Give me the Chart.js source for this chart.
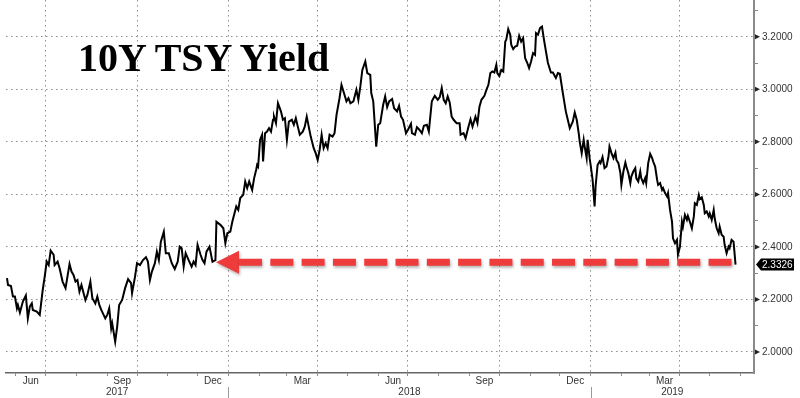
<!DOCTYPE html>
<html>
<head>
<meta charset="utf-8">
<script src="https://cdn.jsdelivr.net/npm/chart.js@4/dist/chart.umd.min.js"></script>
<style>
  html, body { margin: 0; padding: 0; background: #ffffff; }
  #wrap { position: relative; width: 800px; height: 398px; overflow: hidden; }
  #title {
    position: absolute; left: 78px; top: 38px;
    font: bold 40px "Liberation Serif", "Times New Roman", serif;
    line-height: 40px; color: #000; white-space: nowrap; pointer-events: none;
  }
</style>
</head>
<body>
<div id="wrap">
  <canvas id="c" width="800" height="398"></canvas>
  <div id="title">10Y TSY Yield</div>
</div>
<script>
// ---------------- DATA ----------------
// x: days since 2017-07-01, y: 10Y Treasury yield (%)
const days = [
  -39,-38,-35,-33,-31,-29,-28,-26,-23,-20,
  -18,-16,-14,-13,-9,-6,-3,-1,1,3,
  5,8,9,12,14,17,20,24,26,28,
  30,32,34,36,40,42,45,47,50,52,
  54,56,60,62,64,66,67,70,72,74,
  77,80,83,86,87,90,92,95,98,101,
  103,105,107,110,112,114,116,119,121,124,
  127,130,133,135,137,139,141,144,147,149,
  151,153,156,158,160,162,165,168,171,
  172,176,179,181,183,186,188,192,194,196,
  199,201,203,205,208,210,212,213,214,216,
  218,219,221,223,225,227,229,230,232,234,
  237,239,241,243,245,248,250,252,254,256,
  259,261,263,265,267,270,272,274,276,278,
  280,282,284,286,289,291,293,296,298,301,
  303,305,307,310,313,315,317,319,322,324,
  327,328,330,333,335,337,
  340,342,344,346,349,351,354,356,358,360,
  363,365,368,369,372,374,376,379,381,384,
  386,389,392,395,397,399,401,403,405,407,
  409,411,414,417,418,421,423,426,428,430,
  433,435,437,439,442,444,446,448,450,452,
  454,455,457,459,461,463,464,466,468,469,
  471,473,475,477,479,481,483,485,487,489,
  491,493,494,496,498,500,502,504,506,509,
  511,514,516,518,
  521,524,526,528,531,533,535,537,538,540,
  542,543,545,546,548,549,551,553,554,556,
  558,559,561,563,565,567,568,570,572,574,
  575,577,579,580,582,584,585,587,589,590,
  592,594,595,597,599,600,602,604,605,607,
  609,611,612,614,616,617,619,621,622,624,
  626,627,629,631,632,634,636,637,639,641,
  642,644,646,647,649,651,653,654,656,658,
  659,661,663,664,666,668,669,671,673,674,
  676,678,679,681,683,684,686,688,689,691,
  693,695
];
const yields = [
  2.281,2.255,2.251,2.211,2.211,2.166,2.179,2.150,2.192,2.215,
  2.128,2.173,2.185,2.160,2.154,2.141,2.236,2.287,2.344,2.331,
  2.386,2.370,2.331,2.344,2.319,2.268,2.243,2.335,2.306,2.293,
  2.268,2.274,2.230,2.255,2.198,2.217,2.268,2.205,2.185,2.211,
  2.179,2.160,2.128,2.141,2.166,2.090,2.109,2.039,2.096,2.179,
  2.198,2.243,2.277,2.262,2.224,2.287,2.338,2.331,2.350,2.361,
  2.344,2.274,2.306,2.338,2.382,2.350,2.420,2.458,2.376,2.376,
  2.338,2.316,2.344,2.401,2.395,2.325,2.376,2.350,2.325,2.344,
  2.331,2.408,2.370,2.350,2.338,2.382,2.401,2.344,2.350,
  2.496,2.484,2.471,2.414,2.452,2.458,2.496,2.554,2.541,2.586,
  2.598,2.649,2.624,2.649,2.617,2.662,2.693,2.712,2.706,2.808,
  2.827,2.725,2.833,2.839,2.852,2.839,2.884,2.896,2.871,2.947,
  2.916,2.884,2.890,2.808,2.877,2.884,2.865,2.890,2.858,2.827,
  2.839,2.858,2.896,2.858,2.820,2.776,2.757,2.731,2.770,2.827,
  2.776,2.795,2.776,2.827,2.820,2.833,2.903,2.966,3.017,2.979,
  2.954,2.966,2.947,2.954,2.998,2.960,3.011,3.074,3.106,3.062,
  3.055,2.986,2.954,2.782,2.865,2.871,
  2.941,2.973,2.932,2.954,2.963,2.928,2.916,2.937,2.896,2.884,
  2.833,2.846,2.869,2.833,2.827,2.856,2.848,2.833,2.861,2.865,
  2.839,2.954,2.975,2.960,2.970,3.005,2.960,2.947,2.973,2.950,
  2.896,2.884,2.871,2.871,2.827,2.833,2.814,2.858,2.886,2.858,
  2.896,2.871,2.934,2.960,2.975,2.998,3.017,3.062,3.068,3.064,
  3.093,3.062,3.051,3.074,3.068,3.182,3.189,3.229,3.208,3.170,
  3.153,3.163,3.166,3.204,3.182,3.195,3.119,3.102,3.081,3.106,
  3.138,3.131,3.214,3.208,3.233,3.239,3.189,3.144,3.100,3.064,
  3.064,3.043,3.062,3.059,
  2.986,2.916,2.884,2.852,2.877,2.912,2.884,2.833,2.801,2.757,
  2.808,2.782,2.738,2.808,2.738,2.712,2.655,2.554,2.630,2.712,
  2.725,2.719,2.742,2.700,2.706,2.744,2.782,2.757,2.738,2.759,
  2.731,2.719,2.681,2.636,2.687,2.721,2.706,2.681,2.643,2.668,
  2.687,2.700,2.662,2.649,2.687,2.662,2.643,2.662,2.643,2.719,
  2.754,2.738,2.725,2.706,2.655,2.636,2.643,2.617,2.624,2.605,
  2.592,2.605,2.541,2.496,2.433,2.414,2.427,2.370,2.401,2.496,
  2.477,2.522,2.503,2.518,2.496,2.471,2.516,2.566,2.560,2.598,
  2.582,2.589,2.560,2.528,2.535,2.516,2.528,2.503,2.541,2.509,
  2.471,2.452,2.477,2.446,2.439,2.408,2.376,2.401,2.395,2.427,
  2.420,2.3326
];

// axis ticks / labels
const monthLabels = ['Jun', 'Sep', 'Dec', 'Mar', 'Jun', 'Sep', 'Dec', 'Mar'];
const monthLabelMonths = ['2017-06', '2017-09', '2017-12', '2018-03', '2018-06', '2018-09', '2018-12', '2019-03'];
const yearLabels = ['2017', '2018', '2019'];
const yMajorTicks = [2.0, 2.2, 2.4, 2.6, 2.8, 3.0, 3.2];
const yMinorTicks = [2.1, 2.3, 2.5, 2.7, 2.9, 3.1, 3.3];

// annotation: red dashed arrow level and extent (days since 2017-07-01)
const arrowLevel = 2.342;
const arrowFromDay = 171.6;
const arrowToDay = 692.4;

// ---------------- helpers ----------------
const ORIGIN = Date.UTC(2017, 6, 1);
const dayOf = (y, m, d) => (Date.UTC(y, m - 1, d) - ORIGIN) / 86400000;
const X_MIN = -40, X_MAX = 713.6;
const Y_MIN = 1.92, Y_MAX = 3.34;

const GRID = '#8e8e8e';
const AXIS = '#8a8a8a';
const TEXT = '#333333';
const RED = '#ee3b3b';
const FONT = '"Liberation Sans", Arial, sans-serif';

// month boundaries Jun 2017 .. Jun 2019
const xTickDefs = [];
for (let y = 2017, m = 6; y < 2019 || (y === 2019 && m <= 6); ) {
  xTickDefs.push({ value: dayOf(y, m, 1), kind: (m % 3 === 1) ? 'q' : 'm', text: '' });
  m++; if (m > 12) { m = 1; y++; }
}
monthLabelMonths.forEach((ym, i) => {
  const [y, m] = ym.split('-').map(Number);
  const s = dayOf(y, m, 1);
  const e = m === 12 ? dayOf(y + 1, 1, 1) : dayOf(y, m + 1, 1);
  xTickDefs.push({ value: (s + e) / 2, kind: 'lbl', text: monthLabels[i] });
});
yearLabels.forEach(ys => {
  const y = Number(ys);
  const s = Math.max(X_MIN, dayOf(y, 1, 1));
  const e = Math.min(X_MAX, dayOf(y + 1, 1, 1));
  xTickDefs.push({ value: (s + e) / 2, kind: 'yr', text: ['', ys] });
});
xTickDefs.sort((a, b) => a.value - b.value);

const yTickValues = yMajorTicks.concat(yMinorTicks).sort((a, b) => a - b);
const isMajor = v => yMajorTicks.some(t => Math.abs(t - v) < 1e-6);

const points = days.map((d, i) => ({ x: d, y: yields[i] }));

// ---------------- annotation plugin ----------------
const annotPlugin = {
  id: 'annot',
  afterDatasetsDraw(chart) {
    const { ctx, scales: { x, y } } = chart;
    const yp = y.getPixelForValue(arrowLevel);
    const tip = x.getPixelForValue(arrowFromDay);
    const end = x.getPixelForValue(arrowToDay);
    const headLen = 23, headHalf = 11.5;
    ctx.save();
    ctx.shadowColor = 'rgba(0,0,0,0.30)';
    ctx.shadowBlur = 3;
    ctx.shadowOffsetX = 1;
    ctx.shadowOffsetY = 2;
    ctx.fillStyle = RED;
    ctx.beginPath();
    ctx.moveTo(tip, yp);
    ctx.lineTo(tip + headLen, yp - headHalf);
    ctx.lineTo(tip + headLen, yp + headHalf);
    ctx.closePath();
    ctx.fill();
    ctx.strokeStyle = RED;
    ctx.lineWidth = 7;
    ctx.lineCap = 'butt';
    ctx.setLineDash([23, 8.3]);
    ctx.beginPath();
    ctx.moveTo(tip + headLen, yp);
    ctx.lineTo(end, yp);
    ctx.stroke();
    ctx.restore();
  },
  afterDraw(chart) {
    const { ctx, scales: { x, y }, chartArea } = chart;
    ctx.save();
    // triangle markers on major right-axis ticks
    ctx.fillStyle = '#222';
    yMajorTicks.forEach(v => {
      const p = y.getPixelForValue(v);
      ctx.beginPath();
      ctx.moveTo(chartArea.right + 1, p - 2.5);
      ctx.lineTo(chartArea.right + 6, p);
      ctx.lineTo(chartArea.right + 1, p + 2.5);
      ctx.closePath();
      ctx.fill();
    });
    // year separators below month labels
    ctx.strokeStyle = '#999';
    ctx.lineWidth = 1;
    yearLabels.slice(1).forEach(ys => {
      const px = Math.round(x.getPixelForValue(dayOf(Number(ys), 1, 1))) + 0.5;
      ctx.beginPath();
      ctx.moveTo(px, chartArea.bottom + 14);
      ctx.lineTo(px, chart.height);
      ctx.stroke();
    });
    // last value tag
    const last = yields[yields.length - 1];
    const yp = y.getPixelForValue(last);
    const lx = chartArea.right + 2;
    ctx.fillStyle = '#000';
    ctx.beginPath();
    ctx.moveTo(lx, yp);
    ctx.lineTo(lx + 5, yp - 6);
    ctx.lineTo(lx + 38, yp - 6);
    ctx.lineTo(lx + 38, yp + 6);
    ctx.lineTo(lx + 5, yp + 6);
    ctx.closePath();
    ctx.fill();
    ctx.fillStyle = '#fff';
    ctx.font = '10px ' + FONT;
    ctx.textAlign = 'left';
    ctx.textBaseline = 'middle';
    ctx.fillText(last.toFixed(4), chartArea.right + 8, yp + 0.5);
    ctx.restore();
  }
};

// ---------------- chart ----------------
new Chart(document.getElementById('c'), {
  type: 'line',
  data: {
    datasets: [{
      data: points,
      borderColor: '#000',
      borderWidth: 2,
      pointRadius: 0,
      tension: 0,
      fill: false
    }]
  },
  options: {
    responsive: false,
    animation: false,
    events: [],
    layout: { padding: { left: 6, right: 0, top: 0, bottom: 0 } },
    plugins: { legend: { display: false }, tooltip: { enabled: false }, title: { display: false } },
    scales: {
      x: {
        type: 'linear',
        min: X_MIN, max: X_MAX,
        afterBuildTicks: s => { s.ticks = xTickDefs.map(t => ({ value: t.value })); },
        afterFit: s => { s.height = 25; s.paddingLeft = 0; s.paddingRight = 0; },
        ticks: {
          autoSkip: false, maxRotation: 0, minRotation: 0, padding: 0,
          color: TEXT,
          font: { family: FONT, size: 10, lineHeight: 1.1 },
          callback: (v, i) => (xTickDefs[i] ? xTickDefs[i].text : '')
        },
        grid: {
          lineWidth: 1,
          tickLength: 3,
          color: c => { const t = xTickDefs[c.index]; return t && t.kind === 'q' ? GRID : 'rgba(0,0,0,0)'; },
          tickColor: c => { const t = xTickDefs[c.index]; return t && (t.kind === 'q' || t.kind === 'm') ? AXIS : 'rgba(0,0,0,0)'; }
        },
        border: { display: true, color: '#666', width: 1.5, dash: [1.5, 3.5] }
      },
      y: {
        type: 'linear',
        position: 'right',
        min: Y_MIN, max: Y_MAX,
        afterBuildTicks: s => { s.ticks = yTickValues.map(v => ({ value: v })); },
        afterFit: s => { s.width = 46; s.paddingTop = 0; s.paddingBottom = 0; },
        ticks: {
          autoSkip: false, padding: 4,
          color: TEXT,
          font: { family: FONT, size: 10 },
          callback: v => (isMajor(v) ? Number(v).toFixed(4) : '')
        },
        grid: {
          lineWidth: 1,
          tickLength: 4,
          color: c => (c.tick && isMajor(c.tick.value) ? GRID : 'rgba(0,0,0,0)'),
          tickColor: AXIS
        },
        border: { display: true, color: AXIS, width: 2, dash: [1.5, 3.5] }
      }
    }
  },
  plugins: [annotPlugin]
});
</script>
</body>
</html>
